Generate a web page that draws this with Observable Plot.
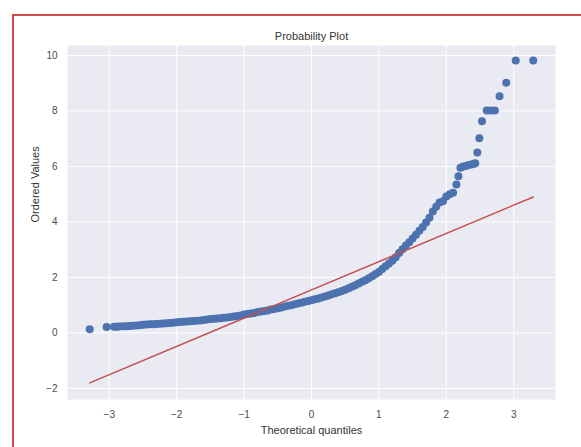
<!DOCTYPE html>
<html>
<head>
<meta charset="utf-8">
<script src="https://cdn.jsdelivr.net/npm/d3@7"></script>
<script src="https://cdn.jsdelivr.net/npm/@observablehq/plot@0.6"></script>
<style>
  html, body { margin: 0; padding: 0; background: #fff; }
  #wrap { position: relative; width: 581px; height: 447px; overflow: hidden; }
  #border { position: absolute; left: 12px; top: 14px; width: 600px; height: 460px; border: 2px solid #d04a4a; box-sizing: border-box; }
  #chart { position: absolute; left: 0; top: 0; }
</style>
</head>
<body>
<div id="wrap"><div id="border"></div><div id="chart"></div></div>
<script>
// Theoretical quantiles (x) and ordered values (y)
const osm = [-3.29, -3.04, -2.93, -2.89,
  -2.85, -2.80, -2.75, -2.70, -2.65, -2.60, -2.55, -2.50, -2.45, -2.40, -2.35, -2.30, -2.25, -2.20, -2.15, -2.10,
  -2.05, -2.00, -1.95, -1.90, -1.85, -1.80, -1.75, -1.70, -1.65, -1.60, -1.55, -1.50, -1.45, -1.40, -1.35, -1.30,
  -1.25, -1.20, -1.15, -1.10, -1.05, -1.00, -0.95, -0.90, -0.85, -0.80, -0.75, -0.70, -0.65, -0.60, -0.55, -0.50,
  -0.45, -0.40, -0.35, -0.30, -0.25, -0.20, -0.15, -0.10, -0.05, 0.00, 0.05, 0.10, 0.15, 0.20, 0.25, 0.30,
  0.35, 0.40, 0.45, 0.50, 0.55, 0.60, 0.65, 0.70, 0.75, 0.80, 0.85, 0.90, 0.95, 1.00, 1.05, 1.10,
  1.15, 1.20, 1.25, 1.30, 1.35, 1.40, 1.45, 1.50, 1.55, 1.60, 1.65, 1.70, 1.75, 1.80, 1.85, 1.90,
  1.95, 2.00, 2.05, 2.10, 2.15, 2.18, 2.21, 2.25, 2.29, 2.33, 2.37, 2.41, 2.43, 2.46, 2.49, 2.53,
  2.60, 2.66, 2.72, 2.79, 2.89, 3.03, 3.29];
const osr = [0.13, 0.21, 0.22, 0.22,
  0.23, 0.24, 0.24, 0.25, 0.26, 0.27, 0.28, 0.29, 0.30, 0.31, 0.31, 0.32, 0.33, 0.34, 0.35, 0.36,
  0.37, 0.38, 0.39, 0.40, 0.41, 0.42, 0.43, 0.44, 0.45, 0.47, 0.48, 0.50, 0.51, 0.52, 0.53, 0.55,
  0.56, 0.57, 0.59, 0.61, 0.63, 0.66, 0.68, 0.70, 0.72, 0.75, 0.77, 0.79, 0.81, 0.84, 0.86, 0.89,
  0.92, 0.95, 0.98, 1.00, 1.03, 1.06, 1.09, 1.12, 1.15, 1.18, 1.21, 1.24, 1.28, 1.31, 1.35, 1.39,
  1.43, 1.47, 1.51, 1.56, 1.61, 1.66, 1.72, 1.78, 1.84, 1.90, 1.97, 2.04, 2.12, 2.20, 2.30, 2.40,
  2.50, 2.60, 2.73, 2.88, 3.02, 3.15, 3.27, 3.40, 3.54, 3.68, 3.82, 3.98, 4.15, 4.38, 4.55, 4.70,
  4.75, 4.92, 5.00, 5.05, 5.35, 5.65, 5.95, 6.00, 6.02, 6.05, 6.07, 6.10, 6.12, 6.50, 7.02, 7.63,
  8.02, 8.02, 8.02, 8.53, 9.02, 9.82, 9.82];
// Least-squares fit line endpoints
const fitX = [-3.29, 3.29];
const fitY = [-1.80, 4.90];
const xTicks = [-3, -2, -1, 0, 1, 2, 3];
const yTicks = [-2, 0, 2, 4, 6, 8, 10];

const pts = osm.map((x, i) => ({x, y: osr[i]}));
const fit = fitX.map((x, i) => ({x, y: fitY[i]}));

const chart = Plot.plot({
  width: 581,
  height: 447,
  marginLeft: 67,
  marginRight: 26,
  marginTop: 45,
  marginBottom: 48,
  style: {background: "transparent", fontFamily: "'Liberation Sans', Arial, sans-serif", fontSize: "10px", color: "#4a4a4a"},
  x: {domain: [-3.62, 3.62], ticks: xTicks, tickSize: 0, tickPadding: 11, label: null},
  y: {domain: [-2.4, 10.36], ticks: yTicks, tickSize: 0, tickPadding: 10, label: null},
  marks: [
    Plot.frame({fill: "#eaeaf2", stroke: null}),
    Plot.gridX(xTicks, {stroke: "#ffffff", strokeOpacity: 1, strokeWidth: 1}),
    Plot.gridY(yTicks, {stroke: "#ffffff", strokeOpacity: 1, strokeWidth: 1}),
    Plot.dot(pts, {x: "x", y: "y", r: 4, fill: "#4c72b0"}),
    Plot.line(fit, {x: "x", y: "y", stroke: "#c44e52", strokeWidth: 1.5}),
    Plot.text(["Probability Plot"], {frameAnchor: "top", dy: -13, fontSize: 11, fill: "#333"}),
    Plot.text(["Theoretical quantiles"], {frameAnchor: "bottom", dy: 34, fontSize: 11, fill: "#333"}),
    Plot.text(["Ordered Values"], {frameAnchor: "left", dx: -32, rotate: -90, fontSize: 11, fill: "#333"})
  ]
});
document.getElementById("chart").appendChild(chart);
</script>
</body>
</html>
